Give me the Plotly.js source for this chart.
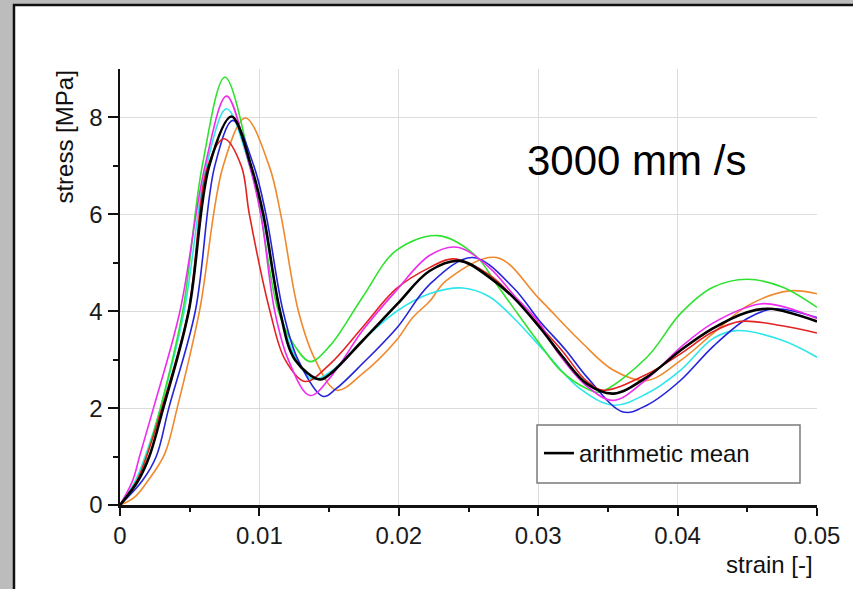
<!DOCTYPE html>
<html>
<head>
<meta charset="utf-8">
<script src="https://cdn.plot.ly/plotly-3.0.1.min.js"></script>
<style>
  html, body { margin: 0; padding: 0; background: #bcbcbc; }
  #chart { width: 853px; height: 589px; }
</style>
</head>
<body>
<div id="chart"></div>
<script>
// ---- data (strain [-], stress [MPa]) ----
const greenX = [0, 0.0013, 0.0019, 0.0029, 0.0045, 0.0059, 0.00753, 0.0094, 0.0101, 0.01136, 0.0125, 0.01363, 0.0151, 0.0174, 0.0198, 0.0228, 0.0255, 0.027, 0.0282, 0.0301, 0.0316, 0.0335, 0.0344, 0.0378, 0.0402, 0.0425, 0.045, 0.0475, 0.05];
const greenY = [0, 0.5, 1, 2, 4, 7, 8.83, 7, 6, 4, 3.3, 2.96, 3.3, 4.29, 5.25, 5.56, 5.15, 4.56, 4.08, 3.33, 2.78, 2.4, 2.33, 3.05, 3.95, 4.49, 4.66, 4.5, 4.08];

const magentaX = [0, 0.0009, 0.0014, 0.0024, 0.0043, 0.0061, 0.00765, 0.0093, 0.0101, 0.0111, 0.01207, 0.01363, 0.0151, 0.0174, 0.0198, 0.0222, 0.0242, 0.0265, 0.0282, 0.0301, 0.0313, 0.0335, 0.0354, 0.0378, 0.0402, 0.0425, 0.0459, 0.0475, 0.05];
const magentaY = [0, 0.5, 1, 2, 4, 7, 8.44, 7, 6, 4, 3, 2.26, 2.64, 3.6, 4.42, 5.15, 5.32, 4.9, 4.35, 3.75, 3.19, 2.45, 2.16, 2.6, 3.25, 3.75, 4.15, 4.1, 3.85];

const cyanX = [0, 0.0011, 0.0018, 0.0029, 0.0046, 0.0062, 0.00765, 0.0093, 0.0102, 0.01148, 0.0125, 0.0138, 0.0151, 0.0174, 0.0199, 0.0222, 0.0246, 0.0265, 0.0282, 0.0304, 0.033, 0.0354, 0.0378, 0.0402, 0.0425, 0.0442, 0.0475, 0.05];
const cyanY = [0, 0.5, 1, 2, 4, 7, 8.18, 7, 6, 4, 3.1, 2.6, 2.75, 3.4, 4.01, 4.36, 4.48, 4.3, 3.87, 3.19, 2.4, 2.06, 2.3, 2.78, 3.43, 3.6, 3.4, 3.05];

const blueX = [0, 0.0016, 0.0026, 0.0035, 0.0054, 0.0068, 0.0081, 0.0096, 0.01047, 0.0117, 0.01277, 0.01458, 0.0155, 0.0174, 0.0199, 0.0222, 0.0253, 0.0282, 0.0301, 0.032, 0.0335, 0.0361, 0.0378, 0.0402, 0.0425, 0.045, 0.0469, 0.05];
const blueY = [0, 0.5, 1, 2, 4, 7, 7.94, 7, 6, 4, 3, 2.24, 2.4, 2.92, 3.67, 4.55, 5.11, 4.49, 3.8, 3.19, 2.64, 1.92, 2.06, 2.57, 3.26, 3.85, 4.05, 3.87];

const redX = [0, 0.0012, 0.0019, 0.003, 0.0049, 0.0063, 0.00746, 0.0087, 0.00928, 0.01076, 0.01184, 0.01327, 0.0151, 0.0174, 0.0198, 0.0222, 0.0239, 0.0265, 0.0282, 0.0301, 0.0317, 0.0335, 0.0347, 0.0378, 0.0402, 0.0425, 0.0445, 0.0475, 0.05];
const redY = [0, 0.5, 1, 2, 4, 7, 7.56, 7, 6, 4, 3, 2.55, 2.92, 3.67, 4.46, 4.9, 5.08, 4.75, 4.3, 3.7, 3.19, 2.55, 2.37, 2.7, 3.12, 3.57, 3.79, 3.7, 3.55];

const orangeX = [0, 0.001, 0.002, 0.0032, 0.0041, 0.0057, 0.0074, 0.009, 0.0107, 0.01153, 0.0128, 0.014, 0.01554, 0.0174, 0.0198, 0.021, 0.0222, 0.0234, 0.027, 0.0301, 0.033, 0.0354, 0.0378, 0.0402, 0.0425, 0.045, 0.048, 0.05];
const orangeY = [0, 0.15, 0.5, 1.05, 2, 4, 7, 7.99, 7, 6, 4, 3, 2.37, 2.71, 3.39, 3.87, 4.2, 4.63, 5.11, 4.25, 3.39, 2.78, 2.57, 2.98, 3.53, 4.11, 4.42, 4.36];

const meanX = [0, 0.0013, 0.0021, 0.0031, 0.00493, 0.0064, 0.008, 0.0094, 0.01028, 0.01148, 0.01255, 0.01435, 0.0151, 0.0174, 0.0199, 0.0222, 0.0244, 0.0265, 0.0282, 0.0301, 0.0317, 0.0335, 0.0354, 0.0378, 0.0402, 0.0425, 0.045, 0.0466, 0.05];
const meanY = [0, 0.5, 1, 2, 4, 7, 8.02, 7, 6, 4, 3, 2.59, 2.71, 3.39, 4.15, 4.83, 5.04, 4.7, 4.29, 3.67, 3.08, 2.5, 2.3, 2.64, 3.19, 3.64, 3.98, 4.05, 3.79];

const xTickVals = [0, 0.01, 0.02, 0.03, 0.04, 0.05];
const xTickText = ['0', '0.01', '0.02', '0.03', '0.04', '0.05'];
const xMinorVals = [0.005, 0.015, 0.025, 0.035, 0.045];
const yTickVals = [0, 2, 4, 6, 8];
const yTickText = ['0', '2', '4', '6', '8'];
const yMinorVals = [1, 3, 5, 7];

const meanName = 'arithmetic mean';
const xLabel = 'strain [-]';
const yLabel = 'stress [MPa]';
const speedLabel = '3000 mm /s';

// ---- traces ----
const FONT = 'Liberation Sans, Arial, Helvetica, sans-serif';
function spec(x, y, color, name) {
  return { x: x, y: y, mode: 'lines', name: name, showlegend: false, hoverinfo: 'skip',
           line: { color: color, width: 1.6, shape: 'spline', smoothing: 1 } };
}
const traces = [
  spec(orangeX, orangeY, '#f0882c', 'test 1'),
  spec(cyanX, cyanY, '#2ee6ea', 'test 2'),
  spec(greenX, greenY, '#2fe22f', 'test 3'),
  spec(blueX, blueY, '#2424d8', 'test 4'),
  spec(redX, redY, '#e42222', 'test 5'),
  spec(magentaX, magentaY, '#ee2cee', 'test 6'),
  { x: meanX, y: meanY, mode: 'lines', name: meanName, showlegend: true, hoverinfo: 'skip',
    line: { color: '#000000', width: 2.6, shape: 'spline', smoothing: 1 } }
];

const tickFont = { family: FONT, size: 24, color: '#1a1a1a' };
const tickStyle = { tickwidth: 2, tickcolor: '#111' };

const layout = {
  width: 853, height: 589,
  margin: { l: 120, r: 36, t: 69, b: 84 },
  paper_bgcolor: '#bcbcbc',
  plot_bgcolor: '#ffffff',
  showlegend: true,
  xaxis: Object.assign({
    range: [0, 0.05], autorange: false, fixedrange: true,
    tickvals: xTickVals, ticktext: xTickText, tickfont: tickFont,
    ticks: 'outside', ticklen: 8,
    minor: Object.assign({ tickvals: xMinorVals, ticks: 'outside', ticklen: 4, showgrid: false }, tickStyle),
    showline: true, linecolor: '#111', linewidth: 2.5,
    showgrid: true, gridcolor: '#dcdcdc', gridwidth: 1,
    zeroline: false, anchor: 'y'
  }, tickStyle),
  yaxis: Object.assign({
    range: [0, 9], autorange: false, fixedrange: true,
    tickvals: yTickVals, ticktext: yTickText, tickfont: tickFont,
    ticks: 'outside', ticklen: 10,
    minor: Object.assign({ tickvals: yMinorVals, ticks: 'outside', ticklen: 5, showgrid: false }, tickStyle),
    showline: true, linecolor: '#111', linewidth: 2.5,
    showgrid: true, gridcolor: '#dcdcdc', gridwidth: 1,
    zeroline: false, anchor: 'x'
  }, tickStyle),
  xaxis2: Object.assign({
    overlaying: 'x', anchor: 'y2', side: 'bottom',
    range: [0, 0.05], autorange: false, fixedrange: true,
    tickvals: xTickVals, showticklabels: false,
    ticks: 'inside', ticklen: 7,
    minor: Object.assign({ tickvals: xMinorVals, ticks: 'inside', ticklen: 4, showgrid: false }, tickStyle),
    showline: true, linecolor: '#222', linewidth: 1.6, mirror: true,
    showgrid: false, zeroline: false
  }, tickStyle),
  yaxis2: Object.assign({
    overlaying: 'y', anchor: 'x2', side: 'left',
    range: [0, 9], autorange: false, fixedrange: true,
    tickvals: yTickVals, showticklabels: false,
    ticks: 'inside', ticklen: 7,
    minor: Object.assign({ tickvals: yMinorVals, ticks: 'inside', ticklen: 3, showgrid: false }, tickStyle),
    showline: true, linecolor: '#222', linewidth: 1.6, mirror: true,
    showgrid: false, zeroline: false
  }, tickStyle),
  legend: {
    orientation: 'h', x: 0.6011, xanchor: 'left', y: 0.1697, yanchor: 'top',
    bgcolor: 'rgba(0,0,0,0)', borderwidth: 0,
    font: { family: FONT, size: 24, color: '#111' }
  },
  shapes: [
    { type: 'rect', xref: 'paper', yref: 'paper', layer: 'below',
      x0: -0.1521, x1: 1.3, y0: -0.5, y1: 1.1468,
      fillcolor: '#ffffff', line: { color: '#111', width: 2.5 } },
    { type: 'rect', xref: 'paper', yref: 'paper', layer: 'above',
      x0: 0.5983, x1: 0.9756, y0: 0.0505, y1: 0.1835,
      fillcolor: '#ffffff', line: { color: '#7a7a7a', width: 1.5 } }
  ],
  annotations: [
    { text: speedLabel, xref: 'paper', yref: 'paper', x: 0.741, y: 0.791,
      xanchor: 'center', yanchor: 'middle', showarrow: false,
      font: { family: FONT, size: 42, color: '#000' } },
    { text: yLabel, xref: 'paper', yref: 'paper', x: -0.079, y: 1.002,
      xanchor: 'center', yanchor: 'top', textangle: -90, showarrow: false,
      font: { family: FONT, size: 24, color: '#111' } },
    { text: xLabel, xref: 'paper', yref: 'paper', x: 0.997, y: -0.1376,
      xanchor: 'right', yanchor: 'middle', showarrow: false,
      font: { family: FONT, size: 24, color: '#111' } }
  ]
};

Plotly.newPlot('chart', traces, layout, { staticPlot: true, displayModeBar: false });
</script>
</body>
</html>
